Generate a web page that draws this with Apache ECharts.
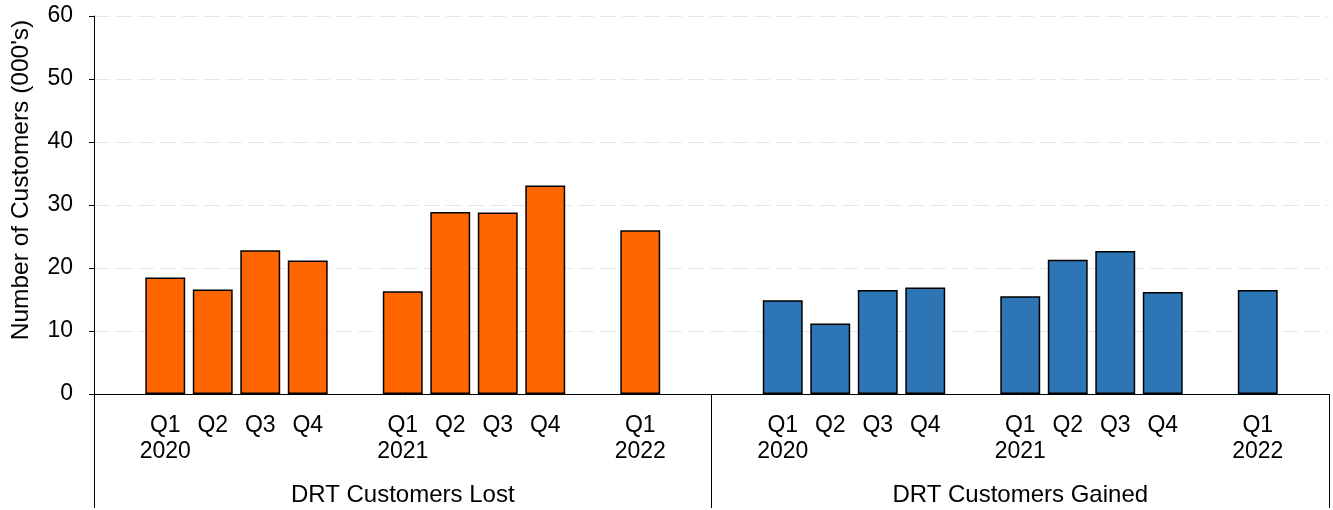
<!DOCTYPE html>
<html>
<head>
<meta charset="utf-8">
<script src="https://cdn.jsdelivr.net/npm/echarts@6/dist/echarts.min.js"></script>
<style>
  html, body { margin: 0; padding: 0; background: #fff; }
  #chart { width: 1333px; height: 510px; }
</style>
</head>
<body>
<div id="chart"></div>
<script>
// Quarter periods shown in each group (blank entries are spacer slots)
const periodQuarters = ['', 'Q1', 'Q2', 'Q3', 'Q4', '', 'Q1', 'Q2', 'Q3', 'Q4', '', 'Q1', ''];
const periodYears    = ['', '2020', '', '', '', '', '2021', '', '', '', '', '2022', ''];

// Customers (thousands) per period, aligned with the slots above
const lostValues   = [null, 18.5, 16.6, 22.8, 21.2, null, 16.3, 28.9, 28.8, 33.1, null, 26.0, null];
const gainedValues = [null, 14.9, 11.2, 16.5, 16.9, null, 15.5, 21.3, 22.7, 16.2, null, 16.5, null];

const groupNames = ['DRT Customers Lost', 'DRT Customers Gained'];
const yTicks = { min: 0, max: 60, interval: 10 };

// One category axis holding both groups back to back
const slotCount = periodQuarters.length;
const categories = [];
for (let g = 0; g < groupNames.length; g++) {
  for (let i = 0; i < slotCount; i++) {
    const q = periodQuarters[i], y = periodYears[i];
    categories.push(q ? (y ? q + '\n' + y : q) : ' '.repeat(g * slotCount + i + 1));
  }
}
const blanks = new Array(slotCount).fill(null);
const lostSeries = lostValues.concat(blanks);
const gainedSeries = blanks.concat(gainedValues);

const FONT = '"Liberation Sans", Arial, sans-serif';
const chart = echarts.init(document.getElementById('chart'), null, { renderer: 'canvas' });

chart.setOption({
  animation: false,
  textStyle: { fontFamily: FONT },
  grid: {
    left: 94, right: 4, top: 16, bottom: 116,
    containLabel: false, outerBoundsMode: 'none'
  },
  xAxis: [
    {
      type: 'category',
      data: categories,
      position: 'bottom',
      axisLine: { show: true, lineStyle: { color: '#000', width: 1 } },
      axisTick: { show: false },
      axisLabel: {
        interval: 0, color: '#000', fontSize: 23, lineHeight: 26,
        margin: 19, fontFamily: FONT, hideOverlap: false
      },
      splitLine: { show: false }
    },
    {
      type: 'category',
      data: groupNames,
      position: 'bottom',
      axisLine: { show: false },
      axisTick: {
        show: true, interval: 0, length: 114, inside: false,
        lineStyle: { color: '#000', width: 1 }
      },
      axisLabel: {
        interval: 0, color: '#000', fontSize: 24, margin: 89, fontFamily: FONT
      },
      splitLine: { show: false }
    }
  ],
  yAxis: {
    type: 'value',
    min: yTicks.min, max: yTicks.max, interval: yTicks.interval,
    name: "Number of Customers (000's)",
    nameLocation: 'middle',
    nameGap: 60,
    nameRotate: 90,
    nameTextStyle: {
      color: '#000', fontSize: 24.5, fontFamily: FONT,
      padding: [0, 0, 0, 50]
    },
    axisLine: { show: true, lineStyle: { color: '#000', width: 1 } },
    axisTick: { show: true, length: 5, lineStyle: { color: '#000' } },
    axisLabel: { color: '#000', fontSize: 23, margin: 21, fontFamily: FONT },
    splitLine: { show: true, lineStyle: { color: '#e6e6e6', type: [16, 6], width: 1 } }
  },
  series: [
    {
      name: groupNames[0],
      type: 'bar',
      data: lostSeries,
      barCategoryGap: '16%',
      barGap: '-100%',
      itemStyle: { color: '#FF6600', borderColor: '#000', borderWidth: 1.5 }
    },
    {
      name: groupNames[1],
      type: 'bar',
      data: gainedSeries,
      barCategoryGap: '16%',
      barGap: '-100%',
      itemStyle: { color: '#2E75B6', borderColor: '#000', borderWidth: 1.5 }
    }
  ]
});
</script>
</body>
</html>
